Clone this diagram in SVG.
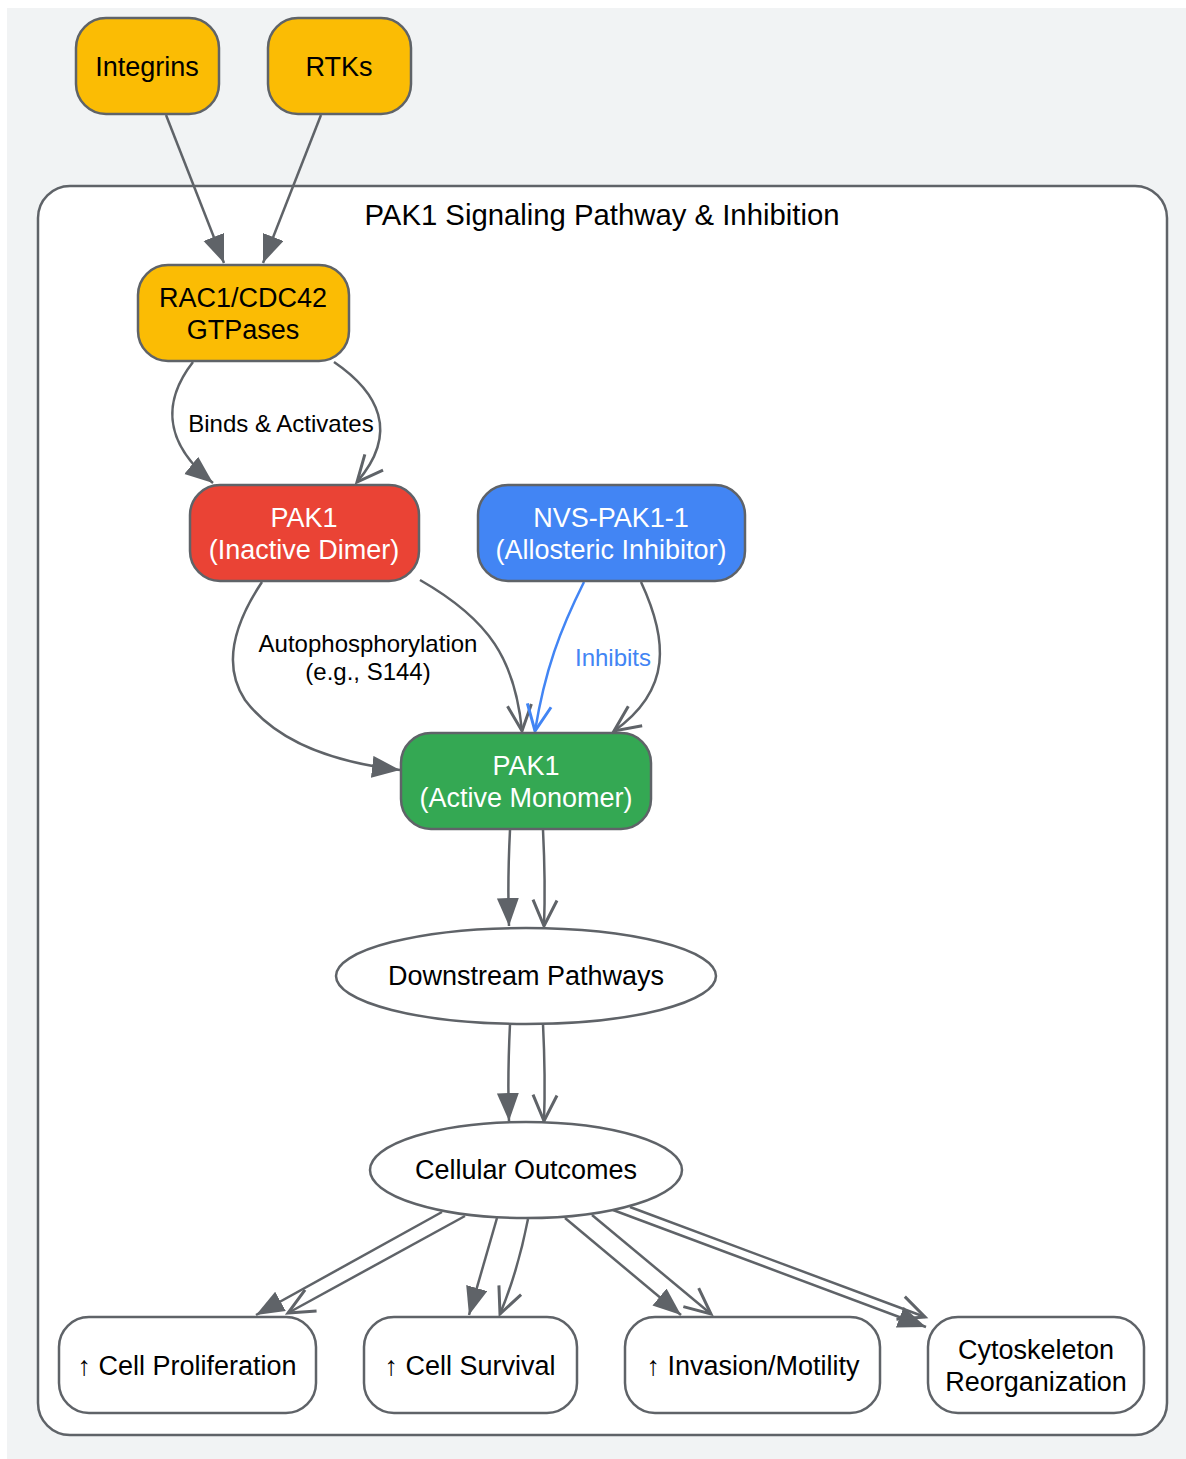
<svg xmlns="http://www.w3.org/2000/svg" width="1186" height="1459" viewBox="0 0 1186 1459">
<style>
.node rect, .node ellipse { stroke: #5f6368; stroke-width: 2.5; }
.y { fill: #fbbc04; }
.r { fill: #ea4335; }
.b { fill: #4285f4; }
.g { fill: #34a853; }
.w { fill: #ffffff; }
text { font-family: "Liberation Sans", Arial, sans-serif; text-anchor: middle; }
.lbl { font-size: 27px; fill: #000; }
.wl { font-size: 27px; fill: #ffffff; }
.el { font-size: 24px; fill: #000; }
.edges path { fill: none; stroke: #5f6368; stroke-width: 2.5; }
.edges path.inh { stroke: #4285f4; }
.f { marker-end: url(#tri); }
.v { marker-end: url(#vee); }
.vb { marker-end: url(#veeb); }
</style>
<defs>
<marker id="tri" markerUnits="userSpaceOnUse" markerWidth="30" markerHeight="24" refX="28" refY="11" orient="auto" viewBox="0 0 30 24">
<path d="M0,0 L28,11 L0,22 z" fill="#5f6368"/>
</marker>
<marker id="vee" markerUnits="userSpaceOnUse" markerWidth="32" markerHeight="30" refX="28" refY="14" orient="auto" viewBox="0 0 32 30">
<path d="M2,2 L28,14 L2,26" fill="none" stroke="#5f6368" stroke-width="3"/>
</marker>
<marker id="veeb" markerUnits="userSpaceOnUse" markerWidth="32" markerHeight="30" refX="28" refY="14" orient="auto" viewBox="0 0 32 30">
<path d="M2,2 L28,14 L2,26" fill="none" stroke="#4285f4" stroke-width="3"/>
</marker>
</defs>
<rect x="7" y="8" width="1179" height="1451" fill="#f1f3f4"/>
<g id="cluster">
<rect x="38" y="186" width="1129" height="1249" rx="32" fill="#ffffff" stroke="#5f6368" stroke-width="2.5"/>
<text x="602" y="225" style="font-size:29.3px" fill="#000">PAK1 Signaling Pathway &amp; Inhibition</text>
</g>
<g class="edges" id="edges">
<path class="f" d="M166,115 L224,263"/>
<path class="f" d="M321,115 L263,263"/>
<path class="f" d="M193,362 C165,398 160,440 213,483"/>
<path class="v" d="M334,362 C378,392 400,432 357,482"/>
<path class="f" d="M262,582 C230,630 225,670 245,700 C275,740 330,762 400,770"/>
<path class="v" d="M420,580 C490,620 515,660 522,731"/>
<path class="inh vb" d="M584,582 C560,630 545,670 535,731"/>
<path class="v" d="M641,582 C668,640 672,690 614,731"/>
<path class="f" d="M510,830 C508,870 508,900 509,926"/>
<path class="v" d="M543,830 C545,870 545,900 544,926"/>
<path class="f" d="M510,1024 C508,1065 508,1095 509,1121"/>
<path class="v" d="M543,1024 C545,1065 545,1095 544,1121"/>
<path class="f" d="M442,1212 L256,1315"/>
<path class="v" d="M465,1216 L288,1313"/>
<path class="f" d="M497,1218 L469,1315"/>
<path class="v" d="M528,1219 C520,1260 510,1290 500,1314"/>
<path class="f" d="M565,1218 L681,1315"/>
<path class="v" d="M592,1215 L711,1314"/>
<path class="f" d="M613,1210 L926,1327"/>
<path class="v" d="M630,1207 L925,1317"/>
<text class="el" x="281" y="432">Binds &amp; Activates</text>
<text class="el" x="368" y="652">Autophosphorylation</text>
<text class="el" x="368" y="680">(e.g., S144)</text>
<text class="el" x="613" y="666" style="fill:#4285f4">Inhibits</text>
</g>
<g class="node" id="integrins"><rect class="y" x="76" y="18" width="143" height="96" rx="30"/><text class="lbl" x="147" y="76">Integrins</text></g>
<g class="node" id="rtks"><rect class="y" x="268" y="18" width="143" height="96" rx="30"/><text class="lbl" x="339" y="76">RTKs</text></g>
<g class="node" id="rac1"><rect class="y" x="138" y="265" width="211" height="96" rx="30"/><text class="lbl" x="243" y="307">RAC1/CDC42</text><text class="lbl" x="243" y="339">GTPases</text></g>
<g class="node" id="pak1_inactive"><rect class="r" x="190" y="485" width="229" height="96" rx="30"/><text class="wl" x="304" y="527">PAK1</text><text class="wl" x="304" y="559">(Inactive Dimer)</text></g>
<g class="node" id="nvs"><rect class="b" x="478" y="485" width="267" height="96" rx="30"/><text class="wl" x="611" y="527">NVS-PAK1-1</text><text class="wl" x="611" y="559">(Allosteric Inhibitor)</text></g>
<g class="node" id="pak1_active"><rect class="g" x="401" y="733" width="250" height="96" rx="30"/><text class="wl" x="526" y="775">PAK1</text><text class="wl" x="526" y="807">(Active Monomer)</text></g>
<g class="node" id="downstream"><ellipse class="w" cx="526" cy="976" rx="190" ry="48"/><text class="lbl" x="526" y="985">Downstream Pathways</text></g>
<g class="node" id="outcomes"><ellipse class="w" cx="526" cy="1170" rx="156" ry="48"/><text class="lbl" x="526" y="1179">Cellular Outcomes</text></g>
<g class="node" id="prolif"><rect class="w" x="59" y="1317" width="257" height="96" rx="30"/><text class="lbl" x="187" y="1375">↑ Cell Proliferation</text></g>
<g class="node" id="survival"><rect class="w" x="364" y="1317" width="213" height="96" rx="30"/><text class="lbl" x="470" y="1375">↑ Cell Survival</text></g>
<g class="node" id="invasion"><rect class="w" x="625" y="1317" width="255" height="96" rx="30"/><text class="lbl" x="753" y="1375">↑ Invasion/Motility</text></g>
<g class="node" id="cyto"><rect class="w" x="928" y="1317" width="216" height="96" rx="30"/><text class="lbl" x="1036" y="1359">Cytoskeleton</text><text class="lbl" x="1036" y="1391">Reorganization</text></g>
</svg>
